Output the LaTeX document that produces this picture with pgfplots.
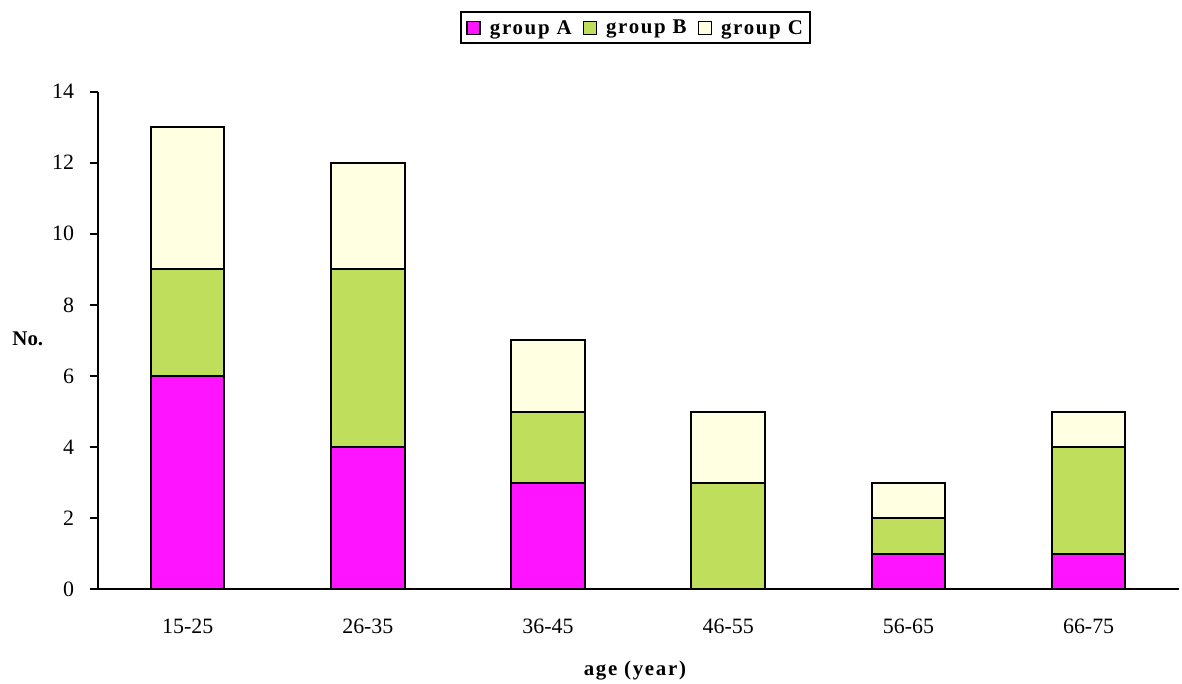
\documentclass[border=0pt]{standalone}
\usepackage{pgfplots}
\pgfplotsset{compat=1.18}
\usepackage{fontspec}
\setmainfont{Liberation Serif}
\definecolor{grpA}{RGB}{255,20,255}
\definecolor{grpB}{RGB}{190,222,92}
\definecolor{grpC}{RGB}{255,255,226}
\begin{document}
\begin{tikzpicture}
\begin{axis}[
  at={(98bp,87bp)}, anchor=south west,
  scale only axis, width=1086bp, height=500bp,
  ybar stacked, bar width=74bp,
  xmin=-0.5, xmax=5.5, ymin=0, ymax=14,
  axis x line*=bottom, axis y line*=left,
  axis line style={line width=2bp, -},
  every tick/.style={line width=2bp, black},
  tick align=outside,
  xtick={0,1,2,3,4,5},
  xticklabels={15-25,26-35,36-45,46-55,56-65,66-75},
  x tick style={draw=none},
  extra x ticks={-0.5,0.5,1.5,2.5,3.5,4.5,5.5},
  extra x tick labels={},
  extra x tick style={major tick length=8bp, tick style={draw=black}},
  ytick={0,2,...,14},
  major tick length=8bp,
  minor tick num=0,
  /pgf/number format/assume math mode=true,
  ticklabel style={font=\fontsize{22bp}{26bp}\selectfont},
  xticklabel style={yshift=-18bp},
  yticklabel style={xshift=-12bp},
  legend style={at={(0.4977,1.128)}, anchor=center, legend columns=-1,
    draw=black, line width=2bp, inner xsep=5bp, inner ysep=6bp,
    font=\bfseries\fontsize{21bp}{24bp}\selectfont\addfontfeature{LetterSpace=8},
    /tikz/every odd column/.append style={column sep=7bp},
    /tikz/every even column/.append style={column sep=9bp}},
  legend image code/.code={\draw[#1, line width=1.6bp] (0bp,-6.5bp) rectangle (13bp,6.5bp);},
  clip=false,
]
\addplot[fill=grpA, draw=black, line width=2bp] coordinates {(0,6) (1,4) (2,3) (3,0) (4,1) (5,1)};
\addplot[fill=grpB, draw=black, line width=2bp] coordinates {(0,3) (1,5) (2,2) (3,3) (4,1) (5,3)};
\addplot[fill=grpC, draw=black, line width=2bp] coordinates {(0,4) (1,3) (2,2) (3,2) (4,1) (5,1)};
\legend{group A, group B, group C}
\node[font=\bfseries\fontsize{21bp}{24bp}\selectfont] at (rel axis cs:-0.0645,0.504) {No.};
\node[font=\bfseries\fontsize{21bp}{24bp}\selectfont\addfontfeature{LetterSpace=8}] at (rel axis cs:0.497,-0.164) {age (year)};
\end{axis}
\path[use as bounding box] (0,0) rectangle (1182bp,679bp);
\end{tikzpicture}
\end{document}
